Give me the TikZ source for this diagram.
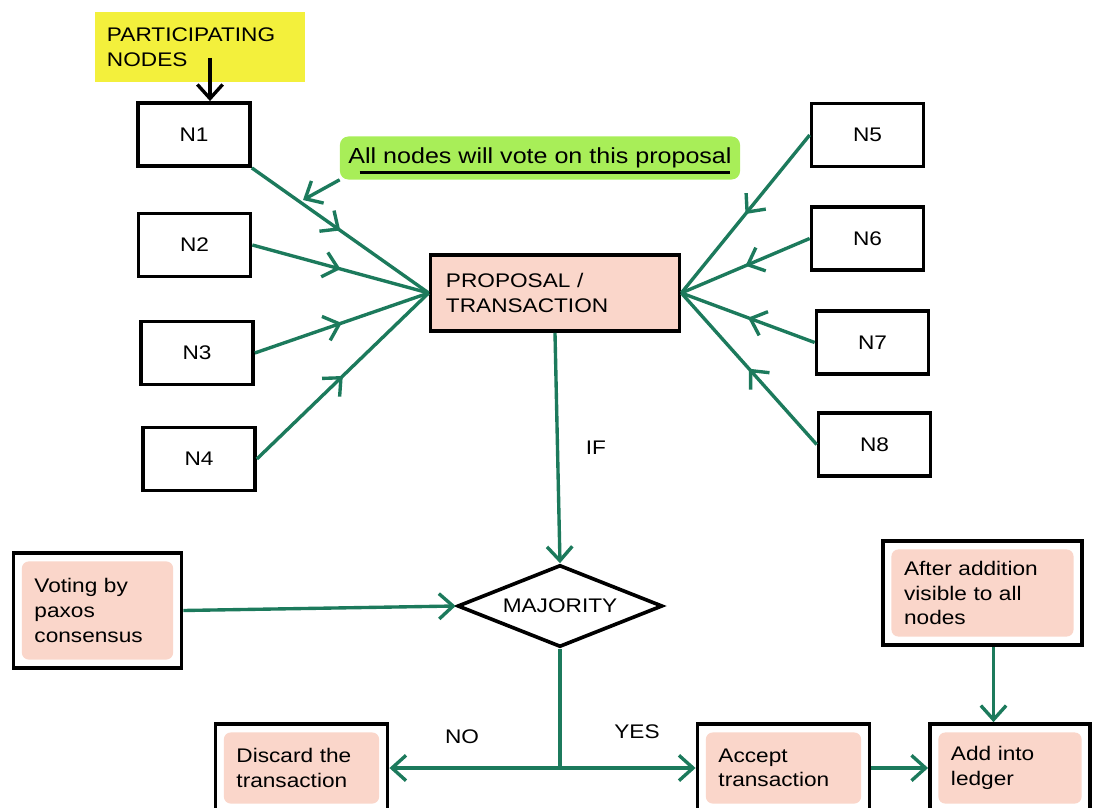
\documentclass[tikz,border=0pt]{standalone}
\usepackage{fontspec}
\setmainfont{Liberation Sans}[FakeStretch=1.15]
\usepackage{tikz}
\usetikzlibrary{shapes.geometric,arrows.meta,positioning,calc,decorations.markings}
\definecolor{flowgreen}{RGB}{28,122,92}
\definecolor{boxpink}{RGB}{250,214,202}
\definecolor{notegreen}{RGB}{168,238,88}
\definecolor{noteyellow}{RGB}{243,240,60}
\newcommand{\boxfont}{\fontsize{14}{17.5}\selectfont}

\tikzset{
    barb/.tip={Straight Barb[length=10pt,width=18pt]},
    nodebox/.style={draw, line width=2.6pt, minimum width=2.8cm, minimum height=1.58cm, font=\boxfont},
    pinkbox/.style={draw, line width=2.6pt, fill=white, font=\boxfont, align=left, inner xsep=15pt,
        path picture={\fill[boxpink, rounded corners=5pt]
            ([shift={(6pt,-6pt)}]path picture bounding box.north west) rectangle
            ([shift={(-6pt,6pt)}]path picture bounding box.south east);}},
    flow/.style={flowgreen, line width=2.4pt, -barb},
    vote/.style={flowgreen, line width=2.4pt, postaction={decorate},
        decoration={markings, mark=at position 0.5 with {\arrow{barb}}}},
}

\begin{document}
\begin{tikzpicture}[x=0.025cm, y=-0.025cm]
    \clip (0,0) rectangle (1094,808);
    % participating nodes
    \node[fill=noteyellow, font=\boxfont, align=left, text width=4.65cm, minimum height=1.75cm, inner xsep=8.5pt] (part) at (200,47) {PARTICIPATING\\NODES};
    \node[nodebox] (n1) at (194,134.5) {N1};
    \node[nodebox] (n2) at (194.5,245) {N2};
    \node[nodebox] (n3) at (197,353) {N3};
    \node[nodebox] (n4) at (199,459) {N4};
    \node[nodebox] (n5) at (867.5,135) {N5};
    \node[nodebox] (n6) at (867.5,238.5) {N6};
    \node[nodebox] (n7) at (872.5,342.5) {N7};
    \node[nodebox] (n8) at (874.5,444.5) {N8};
    % proposal and note
    \node[draw, line width=2.6pt, fill=boxpink, font=\boxfont, align=left, text width=5.45cm, minimum height=1.9cm, inner xsep=11pt] (prop) at (555,293) {PROPOSAL /\\TRANSACTION};
    \node[fill=notegreen, rounded corners=6pt, minimum width=10cm, minimum height=1.075cm, font=\fontsize{15.5}{18}\selectfont] (note) at (540,158) {All nodes will vote on this proposal};
    \draw[line width=2.2pt] ([xshift=0.5cm,yshift=-6pt]note.base west) -- ([xshift=-0.25cm,yshift=-6pt]note.base east);
    % decision
    \node[diamond, draw, line width=2.6pt, fill=white, aspect=2.5, inner sep=0pt, minimum width=5.125cm, minimum height=2.05cm, font=\boxfont] (maj) at (560,606) {MAJORITY};
    \node[pinkbox, text width=3.15cm, minimum height=2.875cm] (voting) at (97.5,610.5) {Voting by\\paxos\\consensus};
    \node[pinkbox, text width=3.25cm, minimum height=2.2cm] (discard) at (301.5,768) {Discard the\\transaction};
    \node[pinkbox, text width=3.25cm, minimum height=2.2cm] (accept) at (783.5,768) {Accept\\transaction};
    \node[pinkbox, text width=2.95cm, minimum height=2.2cm] (add) at (1010,768) {Add into\\ledger};
    \node[pinkbox, text width=3.92cm, minimum height=2.6cm] (after) at (982.5,593) {After addition\\visible to all\\nodes};
    \node[font=\boxfont] (iflbl) at (596,448) {IF};
    \node[font=\boxfont] (nolbl) at (462,737) {NO};
    \node[font=\boxfont] (yeslbl) at (637,732) {YES};
    % votes
    \draw[vote] (n1.south east) -- (prop.west);
    \foreach \n in {n2,n3,n4}
        \draw[vote] (\n.east) -- (prop.west);
    \foreach \n in {n5,n6,n7,n8}
        \draw[vote] (\n.west) -- (prop.east);
    \coordinate (pin) at (210,58);
    \draw[line width=2.4pt, -barb] (pin) -- (pin |- n1.north);
    \coordinate (hint) at (303,200);
    \draw[flow] (note.south west) -- (hint);
    % flow
    \draw[flow] (prop.south) -- (maj.north);
    \draw[flow] (voting.east) -- (maj.west);
    \coordinate (split) at (maj.south |- discard.east);
    \draw[flowgreen, line width=2.4pt] (maj.south) -- (split);
    \draw[flow] (split) -- (discard.east);
    \draw[flow] (split) -- (accept.west);
    \draw[flow] (accept.east) -- (add.west);
    \coordinate (drop) at ([xshift=0.275cm]after.south);
    \draw[flow] (drop) -- (drop |- add.north);
\end{tikzpicture}
\end{document}
